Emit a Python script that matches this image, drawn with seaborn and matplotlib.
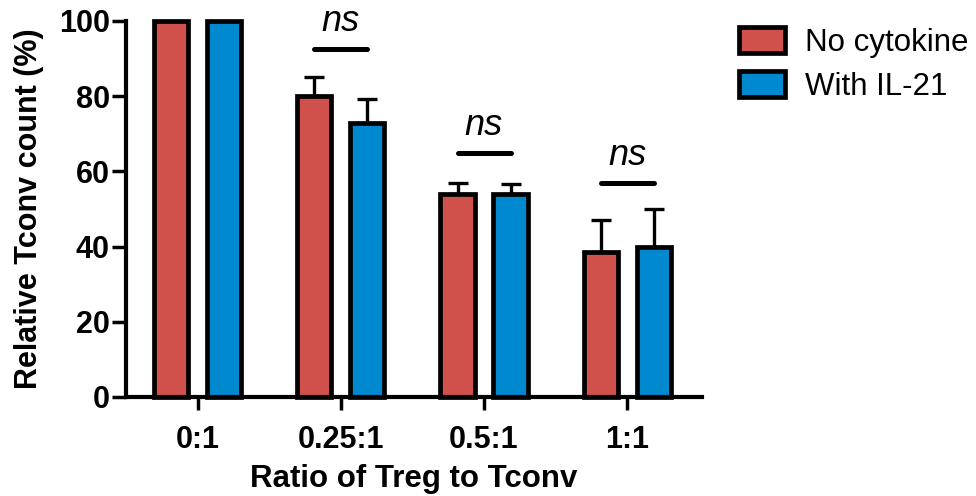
import matplotlib
matplotlib.use("Agg")
import matplotlib.pyplot as plt
import seaborn as sns
import pandas as pd
import numpy as np
from matplotlib.patches import Patch
from matplotlib.container import BarContainer

sns.set_style("white")
plt.rcParams['font.family'] = ['Liberation Sans', 'DejaVu Sans']
plt.rcParams.update({"text.color": "black", "axes.labelcolor": "black",
                     "xtick.color": "black", "ytick.color": "black"})

# ---- data ----
ratios = ["0:1", "0.25:1", "0.5:1", "1:1"]
conditions = ["No cytokine", "With IL-21"]
no_cytokine = [100, 80, 54, 38.5]
with_il21 = [100, 73, 54, 40]
err_no_cytokine = [0, 5.2, 2.9, 8.7]
err_with_il21 = [0, 6.2, 2.7, 10]
sig_groups = ["0.25:1", "0.5:1", "1:1"]
sig_line_y = [92.5, 65, 57]
sig_labels = ["ns", "ns", "ns"]
colors = ["#D0504C", "#0089CF"]

df = pd.DataFrame({
    "ratio": ratios * 2,
    "condition": [conditions[0]] * 4 + [conditions[1]] * 4,
    "value": no_cytokine + with_il21,
})

fig = plt.figure(figsize=(9.76, 4.96), dpi=100)
ax = fig.add_axes([0.129, 0.1996, 0.719 - 0.129, 0.9577 - 0.1996])

sns.barplot(data=df, x="ratio", y="value", hue="condition", order=ratios,
            hue_order=conditions, palette=colors, width=0.74, gap=0.35,
            edgecolor="black", linewidth=3.4, errorbar=None, saturation=1,
            legend=False, ax=ax)

for p in ax.patches:
    p.set_clip_on(False)

bar_conts = [c for c in ax.containers if isinstance(c, BarContainer)]
errs = [err_no_cytokine, err_with_il21]
centers = {}
for ci, cont in enumerate(bar_conts):
    for bi, bar in enumerate(cont.patches):
        xc = bar.get_x() + bar.get_width() / 2
        top = bar.get_height()
        centers[(ci, bi)] = xc
        e = errs[ci][bi]
        if e > 0:
            ax.errorbar([xc], [top], yerr=[[0], [e]], fmt="none", ecolor="black",
                        elinewidth=2.4, capsize=7.5, capthick=2.4, zorder=0.5,
                        clip_on=False)

for g, ly, lab in zip(sig_groups, sig_line_y, sig_labels):
    bi = ratios.index(g)
    x0 = centers[(0, bi)]
    x1 = centers[(1, bi)]
    ax.plot([x0, x1], [ly, ly], color="black", lw=3.6, solid_capstyle="round",
            clip_on=False)
    ax.text((x0 + x1) / 2, ly + 7.3, lab, ha="center", va="center",
            fontsize=26, style="italic", clip_on=False)

ax.set_xlim(-0.5, 3.52)
ax.set_ylim(0, 100)
ax.set_yticks([0, 20, 40, 60, 80, 100])
sns.despine(ax=ax)
for s in ["left", "bottom"]:
    ax.spines[s].set_linewidth(3)
    ax.spines[s].set_color("black")

ax.tick_params(axis="y", direction="out", length=10, width=2.5, pad=1.5,
               labelsize=22, left=True)
ax.tick_params(axis="x", direction="out", length=9, width=2.5, pad=11,
               labelsize=22, bottom=True)
for t in ax.get_xticklabels() + ax.get_yticklabels():
    t.set_fontweight("bold")

ax.set_xlabel("Ratio of Treg to Tconv", fontsize=22.5, fontweight="bold", labelpad=7)
ax.set_ylabel("Relative Tconv count (%)", fontsize=22, fontweight="bold", labelpad=11)

handles = [Patch(facecolor=c, edgecolor="black", linewidth=3.4) for c in colors]
fig.legend(handles, conditions, loc="upper left", bbox_to_anchor=(0.744, 0.97),
           frameon=False, fontsize=22.5, handlelength=1.48, handleheight=0.87,
           handletextpad=0.65, labelspacing=0.43, borderaxespad=0)

fig.savefig("out.png", dpi=100, facecolor="white")
